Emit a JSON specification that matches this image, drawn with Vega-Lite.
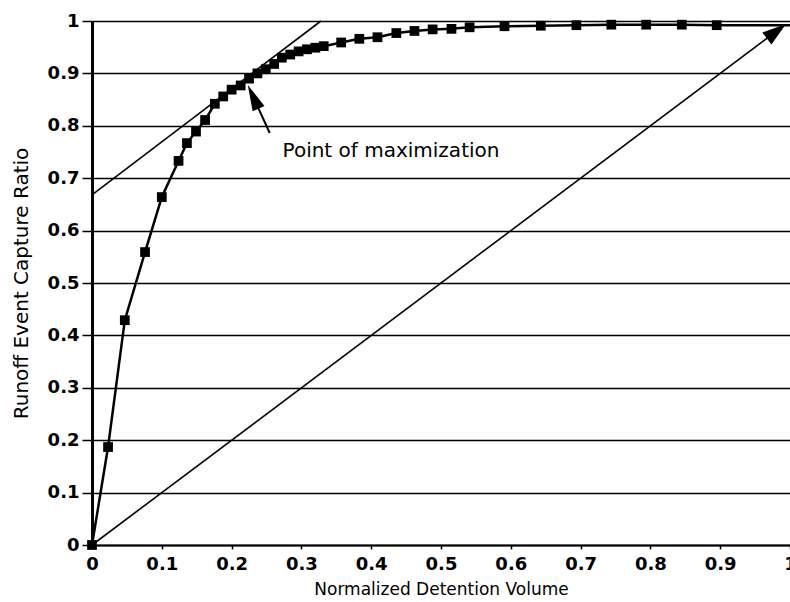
{
  "$schema": "https://vega.github.io/schema/vega-lite/v6.json",
  "width": 698,
  "height": 524,
  "autosize": {"type": "none"},
  "padding": {"left": 92, "top": 21, "right": 0, "bottom": 57},
  "background": "white",
  "config": {"view": {"stroke": null}, "font": "DejaVu Sans"},
  "datasets": {
    "curve": [
      {"x": 0, "y": 0},
      {"x": 0.023, "y": 0.187},
      {"x": 0.047, "y": 0.429},
      {"x": 0.076, "y": 0.559},
      {"x": 0.1, "y": 0.664},
      {"x": 0.124, "y": 0.733},
      {"x": 0.136, "y": 0.767},
      {"x": 0.149, "y": 0.789},
      {"x": 0.162, "y": 0.811},
      {"x": 0.176, "y": 0.842},
      {"x": 0.188, "y": 0.856},
      {"x": 0.2, "y": 0.869},
      {"x": 0.213, "y": 0.877},
      {"x": 0.225, "y": 0.89},
      {"x": 0.237, "y": 0.9},
      {"x": 0.249, "y": 0.908},
      {"x": 0.261, "y": 0.918},
      {"x": 0.272, "y": 0.93},
      {"x": 0.284, "y": 0.936},
      {"x": 0.296, "y": 0.942},
      {"x": 0.308, "y": 0.946},
      {"x": 0.32, "y": 0.949},
      {"x": 0.332, "y": 0.952},
      {"x": 0.357, "y": 0.959},
      {"x": 0.383, "y": 0.966},
      {"x": 0.409, "y": 0.969},
      {"x": 0.436, "y": 0.977},
      {"x": 0.462, "y": 0.981},
      {"x": 0.488, "y": 0.984},
      {"x": 0.515, "y": 0.985},
      {"x": 0.541, "y": 0.988},
      {"x": 0.591, "y": 0.99},
      {"x": 0.643, "y": 0.991},
      {"x": 0.694, "y": 0.992},
      {"x": 0.744, "y": 0.993},
      {"x": 0.794, "y": 0.993},
      {"x": 0.845, "y": 0.993},
      {"x": 0.895, "y": 0.992},
      {"x": 1.0, "y": 0.992}
    ],
    "tangent": [{"x": 0, "y": 0.668}, {"x": 0.328, "y": 1}],
    "diagonal": [{"x": 0, "y": 0}, {"x": 0.985, "y": 0.985}],
    "maxArrow": [{"x": 0.2546, "y": 0.7863}, {"x": 0.231, "y": 0.855}],
    "maxHead": [{"x": 0.2309, "y": 0.8553}],
    "diagHead": [{"x": 0.9806, "y": 0.9805}],
    "note": [{"x": 0.273, "y": 0.74, "label": "Point of maximization"}]
  },
  "encoding": {
    "x": {
      "field": "x",
      "type": "quantitative",
      "scale": {"domain": [0, 1], "nice": false},
      "axis": {
        "title": "Normalized Detention Volume",
        "values": [0, 0.1, 0.2, 0.3, 0.4, 0.5, 0.6, 0.7, 0.8, 0.9, 1],
        "format": "~g",
        "grid": false,
        "domainColor": "black",
        "domainWidth": 2,
        "tickColor": "black",
        "tickWidth": 1.5,
        "tickSize": 4,
        "labelPadding": 6,
        "labelFont": "DejaVu Sans",
        "labelFontWeight": "bold",
        "labelFontSize": 18,
        "labelColor": "black",
        "labelFlush": false,
        "labelOverlap": false,
        "labelBound": false,
        "titleFont": "DejaVu Sans",
        "titleFontSize": 17,
        "titleFontWeight": "normal",
        "titleColor": "black",
        "titlePadding": 8
      }
    },
    "y": {
      "field": "y",
      "type": "quantitative",
      "scale": {"domain": [0, 1], "nice": false},
      "axis": {
        "title": "Runoff Event Capture Ratio",
        "values": [0, 0.1, 0.2, 0.3, 0.4, 0.5, 0.6, 0.7, 0.8, 0.9, 1],
        "format": "~g",
        "grid": true,
        "gridColor": "black",
        "gridWidth": 1.5,
        "gridOpacity": 1,
        "domainColor": "black",
        "domainWidth": 3,
        "tickColor": "black",
        "tickWidth": 1.5,
        "tickSize": 10,
        "labelPadding": 3,
        "labelFont": "DejaVu Sans",
        "labelFontWeight": "bold",
        "labelFontSize": 18,
        "labelColor": "black",
        "labelFlush": false,
        "labelOverlap": false,
        "labelBound": false,
        "titleFont": "DejaVu Sans",
        "titleFontSize": 20,
        "titleFontWeight": "normal",
        "titleColor": "black",
        "titlePadding": 16
      }
    }
  },
  "layer": [
    {"data": {"name": "diagonal"}, "mark": {"type": "line", "color": "black", "strokeWidth": 1.6}, "encoding": {}},
    {"data": {"name": "tangent"}, "mark": {"type": "line", "color": "black", "strokeWidth": 1.6}, "encoding": {}},
    {"data": {"name": "curve"}, "mark": {"type": "line", "color": "black", "strokeWidth": 2.5}, "encoding": {}},
    {
      "data": {"name": "curve"},
      "transform": [{"filter": "datum.x < 0.99"}],
      "mark": {"type": "point", "shape": "square", "filled": true, "color": "black", "opacity": 1, "size": 95},
      "encoding": {}
    },
    {"data": {"name": "maxArrow"}, "mark": {"type": "line", "color": "black", "strokeWidth": 2}, "encoding": {}},
    {
      "data": {"name": "maxHead"},
      "mark": {"type": "point", "shape": "M0,-1L0.5,1L-0.5,1Z", "filled": true, "color": "black", "opacity": 1, "size": 676, "angle": -24.6},
      "encoding": {}
    },
    {
      "data": {"name": "diagHead"},
      "mark": {"type": "point", "shape": "M0,-1L0.62,1L-0.62,1Z", "filled": true, "color": "black", "opacity": 1, "size": 576, "angle": 53},
      "encoding": {}
    },
    {
      "data": {"name": "note"},
      "mark": {"type": "text", "align": "left", "baseline": "alphabetic", "font": "DejaVu Sans", "fontSize": 20, "color": "black"},
      "encoding": {"text": {"field": "label"}}
    }
  ]
}
